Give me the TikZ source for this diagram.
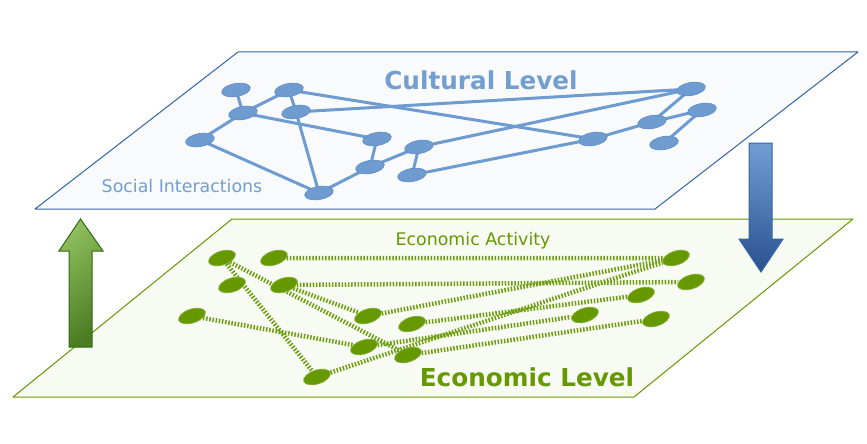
\documentclass[tikz,border=0pt]{standalone}
\usepackage{fontspec}
\setmainfont{DejaVu Sans}
\usepackage{xcolor}
\usepackage{tikz}
\usetikzlibrary{shapes.geometric}
\definecolor{cult}{HTML}{6E9BD0}
\definecolor{culttext}{HTML}{729FCF}
\definecolor{cultdark}{HTML}{3465A4}
\definecolor{cultpale}{HTML}{F8FAFC}
\definecolor{econ}{HTML}{669900}
\definecolor{econline}{HTML}{6E9E10}
\definecolor{econpale}{HTML}{F8FBF4}
\definecolor{econdark}{HTML}{2E6B10}
\definecolor{uplight}{HTML}{8DBD5C}
\definecolor{updark}{HTML}{4C7C22}
\definecolor{downdark}{HTML}{2C5592}
\pgfdeclarelayer{planes}
\pgfdeclarelayer{links}
\pgfsetlayers{planes,links,main}

\begin{document}
\begin{tikzpicture}[
    x=1pt, y=-1pt,
    plane/.style 2 args={draw=#1, fill=#2, line width=1pt, line join=round},
    bnode/.style={ellipse, draw=cult!75!cultdark, fill=cult, line width=0.6pt,
        minimum width=29pt, minimum height=13pt, inner sep=0pt, rotate=10},
    gnode/.style={ellipse, draw=econ!70!white, fill=econ, line width=0.6pt,
        minimum width=28pt, minimum height=14pt, inner sep=0pt, rotate=18},
    blink/.style={draw=cult, line width=3pt},
    glink/.style={draw=econline, line width=4.5pt, dash pattern=on 1.5pt off 1.7pt},
    title/.style={font=\fontsize{24.7}{30}\selectfont\bfseries, text=#1, inner sep=0pt, anchor=base},
    sub/.style={font=\fontsize{17.4}{21}\selectfont, text=#1, inner sep=0pt, anchor=base},
  ]
  \useasboundingbox (0,0) rectangle (867,444);
  % planes
  \begin{pgfonlayer}{planes}
    \draw[plane={cultdark}{cultpale}] (238,52) -- (858,52) -- (655,209) -- (35,209) -- cycle;
    \draw[plane={econ}{econpale}] (232,219) -- (853,219) -- (634,397) -- (13,397) -- cycle;
  \end{pgfonlayer}
  \node[title=culttext] (cultural) at (481,89) {Cultural Level};
  \node[sub=culttext] (social) at (182,192) {Social Interactions};
  \node[sub=econ] (activity) at (473,245) {Economic Activity};
  \node[title=econ] (economic) at (527,386) {Economic Level};
  % cultural level
  \node[bnode] (A) at (236,90) {};
  \node[bnode] (B) at (289,90) {};
  \node[bnode] (C) at (243,113) {};
  \node[bnode] (D) at (296,112) {};
  \node[bnode] (E) at (200,140) {};
  \node[bnode] (F) at (377,139) {};
  \node[bnode] (G) at (370,167) {};
  \node[bnode] (H) at (419,147) {};
  \node[bnode] (I) at (412,175) {};
  \node[bnode] (J) at (319,193) {};
  \node[bnode] (K) at (691,89) {};
  \node[bnode] (L) at (702,110) {};
  \node[bnode] (M) at (652,122) {};
  \node[bnode] (N) at (593,139) {};
  \node[bnode] (O) at (664,143) {};
  % economic level
  \node[gnode] (a) at (222,258) {};
  \node[gnode] (b) at (274,258) {};
  \node[gnode] (c) at (232,285) {};
  \node[gnode] (d) at (284,285) {};
  \node[gnode] (e) at (192,316) {};
  \node[gnode] (f) at (368,316) {};
  \node[gnode] (g) at (412,324) {};
  \node[gnode] (h) at (364,347) {};
  \node[gnode] (i) at (408,355) {};
  \node[gnode] (j) at (317,377) {};
  \node[gnode] (k) at (676,258) {};
  \node[gnode] (l) at (691,282) {};
  \node[gnode] (m) at (641,295) {};
  \node[gnode] (n) at (585,315) {};
  \node[gnode] (o) at (656,319) {};
  \begin{pgfonlayer}{links}
    \draw[blink] (A.center) -- (C.center) -- (B.center) -- (D.center);
    \draw[blink] (E.center) -- (C.center) -- (F.center) -- (G.center) -- (H.center) -- (I.center) -- (N.center);
    \draw[blink] (E.center) -- (J.center) -- (D.center) -- (K.center) -- (H.center);
    \draw[blink] (J.center) -- (G.center);
    \draw[blink] (B.center) -- (N.center) -- (M.center) -- (K.center);
    \draw[blink] (M.center) -- (L.center) -- (O.center);
    \draw[glink] (b) -- (k);
    \draw[glink] (d) -- (l);
    \draw[glink] (a) -- (i);
    \draw[glink] (a) -- (j);
    \draw[glink] (d) -- (f);
    \draw[glink] (f) -- (k);
    \draw[glink] (e) -- (h);
    \draw[glink] (j) -- (k);
    \draw[glink] (g) -- (m);
    \draw[glink] (h) -- (n);
    \draw[glink] (i) -- (o);
  \end{pgfonlayer}
  % arrows between levels
  \shade[draw=econdark, line width=1pt, top color=uplight, bottom color=updark, shading angle=40]
    (69,347) -- (69,251) -- (59,251) -- (80.5,219) -- (103,251) -- (92,251) -- (92,347) -- cycle;
  \shade[draw=cultdark, line width=1pt, top color=cult, bottom color=downdark, shading angle=-10]
    (749,143) -- (772,143) -- (772,239) -- (783,239) -- (761,272) -- (739,239) -- (749,239) -- cycle;
\end{tikzpicture}
\end{document}
